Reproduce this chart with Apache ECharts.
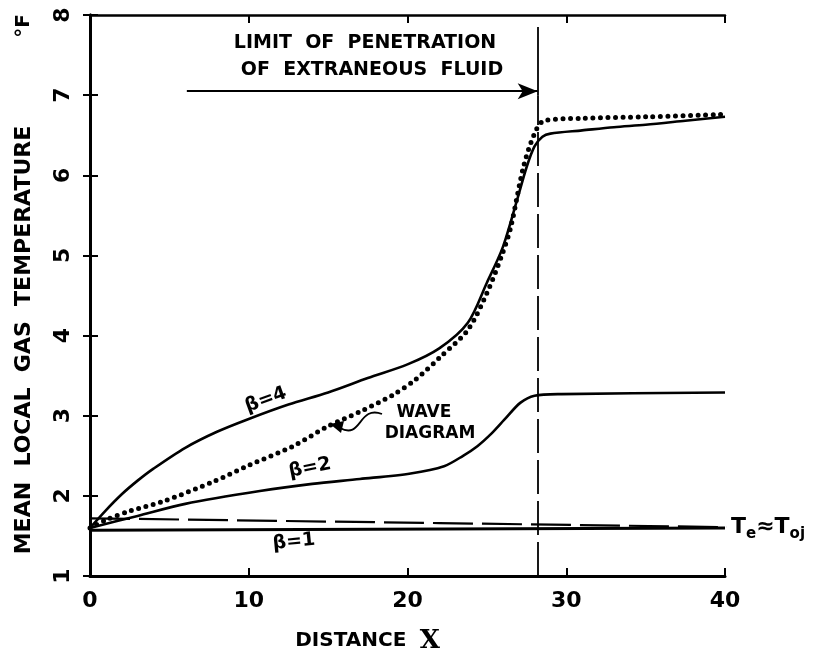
<!DOCTYPE html>
<html>
<head>
<meta charset="utf-8">
<script src="https://cdn.jsdelivr.net/npm/echarts@6/dist/echarts.min.js"></script>
<style>
html,body{margin:0;padding:0;background:#fff;}
#chart{width:840px;height:665px;}
</style>
</head>
<body>
<div id="chart"></div>
<script>
// ---- data ----
const xTicks = [0, 10, 20, 30, 40];
const yTicks = [1, 2, 3, 4, 5, 6, 7, 8];

const beta4X = [0, 1, 2, 3, 4, 6, 8, 10, 12.5, 15, 17.5, 20, 22, 23.8, 25, 26, 26.9, 27.5, 28, 28.5, 29, 31, 33, 35, 37.5, 40];
const beta4Y = [1.6, 1.82, 2.02, 2.19, 2.34, 2.6, 2.8, 2.96, 3.14, 3.29, 3.47, 3.64, 3.84, 4.16, 4.66, 5.1, 5.69, 6.1, 6.36, 6.48, 6.52, 6.56, 6.6, 6.63, 6.68, 6.73];

const waveX = [0, 1, 2.5, 4.6, 7.8, 10, 12.8, 15, 17, 19.1, 20.5, 22.1, 23.8, 25, 25.9, 26.5, 27.3, 28, 28.6, 30.9, 35.1, 40];
const waveY = [1.6, 1.7, 1.81, 1.93, 2.18, 2.38, 2.62, 2.87, 3.05, 3.26, 3.45, 3.74, 4.07, 4.53, 4.98, 5.35, 6.1, 6.52, 6.68, 6.71, 6.73, 6.76];

const beta2X = [0, 3, 6, 10.7, 14, 17, 20.2, 22.3, 23.5, 24.4, 25.3, 26.1, 27.1, 28, 29.7, 40];
const beta2Y = [1.6, 1.75, 1.9, 2.06, 2.15, 2.21, 2.28, 2.37, 2.5, 2.62, 2.78, 2.95, 3.16, 3.25, 3.27, 3.29];

const beta1X = [0, 40];
const beta1Y = [1.57, 1.6];

const teX = [0, 22, 40, 41.6];
const teY = [1.72, 1.66, 1.61, 1.61];

const penetrationX = 28.2;
const arrowStartX = 6.1;
const arrowY = 7.05;

const zip = (xs, ys) => xs.map((x, i) => [x, ys[i]]);

const FONT = '"DejaVu Sans", sans-serif';
const chart = echarts.init(document.getElementById('chart'));

const axisLine = { show: true, lineStyle: { color: '#000', width: 3 } };
const axisTickIn = { show: true, inside: true, length: 8, lineStyle: { color: '#000', width: 2 } };

chart.setOption({
  animation: false,
  backgroundColor: '#fff',
  grid: { left: 90, right: 115, top: 15, bottom: 89 },
  xAxis: [
    {
      type: 'value', min: 0, max: 40, interval: 10, position: 'bottom',
      axisLine: axisLine, axisTick: axisTickIn, splitLine: { show: false },
      axisLabel: { color: '#000', fontSize: 22, fontWeight: 'bold', fontFamily: FONT, margin: 14,
        formatter: v => xTicks.includes(v) ? String(v) : '' },
      name: '{a|DISTANCE}    {b|X}', nameLocation: 'middle', nameGap: 52,
      nameTextStyle: { padding: [0, 80, 0, 0], rich: {
        a: { fontSize: 20, fontWeight: 'bold', fontFamily: FONT, color: '#000' },
        b: { fontSize: 26, fontFamily: '"DejaVu Serif", serif', fontWeight: 'bold', color: '#000' }
      } }
    },
    {
      type: 'value', min: 0, max: 40, interval: 10, position: 'top',
      axisLine: { show: true, lineStyle: { color: '#000', width: 2.5 } }, axisTick: axisTickIn,
      splitLine: { show: false }, axisLabel: { show: false }
    }
  ],
  yAxis: [
    {
      type: 'value', min: 1, max: 8, interval: 1, position: 'left',
      axisLine: axisLine, axisTick: axisTickIn, splitLine: { show: false },
      axisLabel: { color: '#000', fontSize: 22, fontWeight: 'bold', fontFamily: FONT, rotate: 90, margin: 16,
        formatter: v => yTicks.includes(v) ? String(v) : '' }
    },
    {
      type: 'value', min: 1, max: 8, interval: 1, position: 'right',
      axisLine: axisLine, axisTick: { show: true, inside: true, length: 7, lineStyle: { color: '#000', width: 2 } },
      splitLine: { show: false }, axisLabel: { show: false }
    }
  ],
  series: [
    {
      name: 'beta1', type: 'line', data: zip(beta1X, beta1Y), showSymbol: false,
      lineStyle: { color: '#000', width: 3 }
    },
    {
      name: 'Te', type: 'line', data: zip(teX, teY), showSymbol: false, clip: false,
      lineStyle: { color: '#000', width: 2.2, type: [40, 9] },
      endLabel: {
        show: true, distance: 4,
        formatter: '{t|T}{s|e}{t|≈T}{s|oj}',
        rich: {
          t: { fontSize: 22, fontWeight: 'bold', fontFamily: FONT, color: '#000' },
          s: { fontSize: 15, fontFamily: FONT, fontWeight: 'bold', color: '#000', padding: [14, 0, 0, 0] }
        }
      }
    },
    {
      name: 'beta2', type: 'line', data: zip(beta2X, beta2Y), showSymbol: false, smooth: 0.3,
      lineStyle: { color: '#000', width: 2.6 }
    },
    {
      name: 'beta4', type: 'line', data: zip(beta4X, beta4Y), showSymbol: false, smooth: 0.3,
      lineStyle: { color: '#000', width: 2.6 }
    },
    {
      name: 'wave', type: 'line', data: zip(waveX, waveY), showSymbol: false, smooth: 0.3,
      lineStyle: { color: '#000', width: 5, type: [0, 7.5], cap: 'round' },
      markLine: {
        silent: true, symbol: 'none', label: { show: false },
        data: [
          [ { coord: [penetrationX, 1], lineStyle: { type: [34, 7], width: 1.8, color: '#000' } },
            { coord: [penetrationX, arrowY - 0.05] } ],
          [ { coord: [penetrationX, arrowY - 0.05], lineStyle: { type: 'solid', width: 1.8, color: '#000' } },
            { coord: [penetrationX, 7.85] } ],
          [ { coord: [arrowStartX, arrowY], symbol: 'none', lineStyle: { type: 'solid', width: 2, color: '#000' } },
            { coord: [penetrationX, arrowY], symbol: 'arrow', symbolSize: [12, 20] } ]
        ]
      }
    }
  ],
  graphic: [
    { type: 'text', x: 24, y: 340, rotation: Math.PI / 2, style: {
      text: 'MEAN  LOCAL  GAS  TEMPERATURE', fill: '#000', font: 'bold 22px ' + FONT,
      align: 'center', verticalAlign: 'middle' } },
    { type: 'text', x: 24, y: 26, rotation: Math.PI / 2, style: {
      text: '°F', fill: '#000', font: 'bold 20px ' + FONT, align: 'center', verticalAlign: 'middle' } },
    { type: 'text', x: 365, y: 43, style: {
      text: 'LIMIT  OF  PENETRATION', fill: '#000', font: 'bold 19px ' + FONT, align: 'center', verticalAlign: 'middle' } },
    { type: 'text', x: 372, y: 70, style: {
      text: 'OF  EXTRANEOUS  FLUID', fill: '#000', font: 'bold 19px ' + FONT, align: 'center', verticalAlign: 'middle' } },
    { type: 'text', x: 266, y: 400, rotation: 0.35, style: {
      text: 'β=4', fill: '#000', font: 'bold 19px ' + FONT, align: 'center', verticalAlign: 'middle' } },
    { type: 'text', x: 310, y: 468, rotation: 0.2, style: {
      text: 'β=2', fill: '#000', font: 'bold 19px ' + FONT, align: 'center', verticalAlign: 'middle' } },
    { type: 'text', x: 294, y: 542, rotation: 0.1, style: {
      text: 'β=1', fill: '#000', font: 'bold 19px ' + FONT, align: 'center', verticalAlign: 'middle' } },
    { type: 'text', x: 424, y: 413, style: {
      text: 'WAVE', fill: '#000', font: 'bold 17px ' + FONT, align: 'center', verticalAlign: 'middle' } },
    { type: 'text', x: 430, y: 434, style: {
      text: 'DIAGRAM', fill: '#000', font: 'bold 17px ' + FONT, align: 'center', verticalAlign: 'middle' } },
    { type: 'bezierCurve', shape: { x1: 382, y1: 414, x2: 340, y2: 428, cpx1: 358, cpy1: 405, cpx2: 362, cpy2: 440 },
      style: { stroke: '#000', lineWidth: 1.8, fill: null } },
    { type: 'polygon', shape: { points: [[330, 424], [344, 421], [341, 433]] }, style: { fill: '#000' } }
  ]
});
</script>
</body>
</html>
